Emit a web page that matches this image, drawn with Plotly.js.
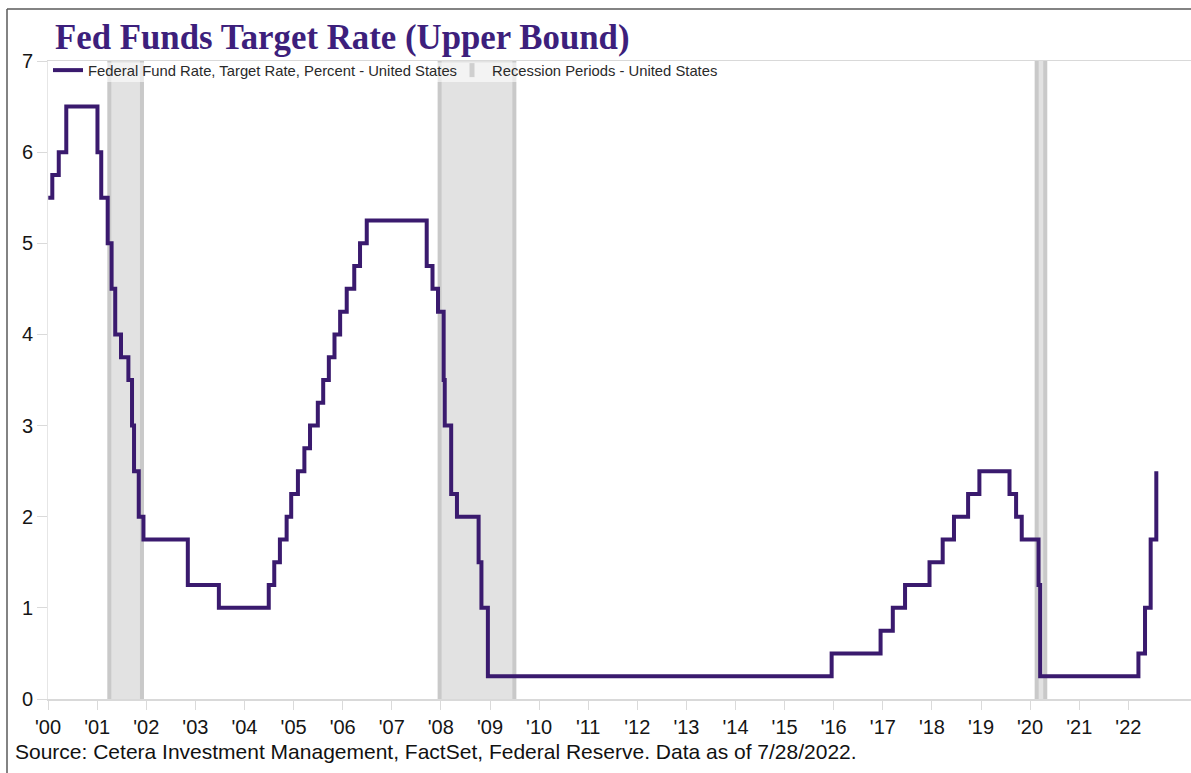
<!DOCTYPE html>
<html>
<head>
<meta charset="utf-8">
<script src="https://cdn.plot.ly/plotly-3.0.1.min.js"></script>
<style>
  html, body { margin: 0; padding: 0; background: #ffffff; overflow: hidden; }
  #chart { width: 1191px; height: 773px; }
</style>
</head>
<body>
<div id="chart"></div>
<script>
// ---- Data ----
const rateDates = [
  '2000-01-03','2000-02-02','2000-03-21','2000-05-16',
  '2001-01-03','2001-01-31','2001-03-20','2001-04-18','2001-05-15','2001-06-27',
  '2001-08-21','2001-09-17','2001-10-02','2001-11-06','2001-12-11',
  '2002-11-06','2003-06-25',
  '2004-06-30','2004-08-10','2004-09-21','2004-11-10','2004-12-14',
  '2005-02-02','2005-03-22','2005-05-03','2005-06-30','2005-08-09','2005-09-20','2005-11-01','2005-12-13',
  '2006-01-31','2006-03-28','2006-05-10','2006-06-29',
  '2007-09-18','2007-10-31','2007-12-11',
  '2008-01-22','2008-01-30','2008-03-18','2008-04-30','2008-10-08','2008-10-29','2008-12-16',
  '2015-12-17','2016-12-15',
  '2017-03-16','2017-06-15','2017-12-14',
  '2018-03-22','2018-06-14','2018-09-27','2018-12-20',
  '2019-08-01','2019-09-19','2019-10-31',
  '2020-03-04','2020-03-16',
  '2022-03-17','2022-05-05','2022-06-16','2022-07-28'
];
const rateValues = [
  5.50, 5.75, 6.00, 6.50,
  6.00, 5.50, 5.00, 4.50, 4.00, 3.75,
  3.50, 3.00, 2.50, 2.00, 1.75,
  1.25, 1.00,
  1.25, 1.50, 1.75, 2.00, 2.25,
  2.50, 2.75, 3.00, 3.25, 3.50, 3.75, 4.00, 4.25,
  4.50, 4.75, 5.00, 5.25,
  4.75, 4.50, 4.25,
  3.50, 3.00, 2.25, 2.00, 1.50, 1.00, 0.25,
  0.50, 0.75,
  1.00, 1.25, 1.50,
  1.75, 2.00, 2.25, 2.50,
  2.25, 2.00, 1.75,
  1.25, 0.25,
  0.50, 1.00, 1.75, 2.50
];
const recessionStart = ['2001-04-01', '2007-12-23', '2020-02-19'];
const recessionEnd   = ['2001-11-30', '2009-07-01', '2020-04-23'];

const tickDates  = ['2000-01-01','2001-01-01','2002-01-01','2003-01-01','2004-01-01','2005-01-01',
                    '2006-01-01','2007-01-01','2008-01-01','2009-01-01','2010-01-01','2011-01-01',
                    '2012-01-01','2013-01-01','2014-01-01','2015-01-01','2016-01-01','2017-01-01',
                    '2018-01-01','2019-01-01','2020-01-01','2021-01-01','2022-01-01'];
const tickLabels = ["'00","'01","'02","'03","'04","'05","'06","'07","'08","'09","'10","'11",
                    "'12","'13","'14","'15","'16","'17","'18","'19","'20","'21","'22"];
const yTicks = [0, 1, 2, 3, 4, 5, 6, 7];

const seriesName = 'Federal Fund Rate, Target Rate, Percent - United States';
const recessionName = 'Recession Periods - United States';
const titleText = 'Fed Funds Target Rate (Upper Bound)';
const sourceText = 'Source: Cetera Investment Management, FactSet, Federal Reserve. Data as of 7/28/2022.';

// ---- Styling ----
const PURPLE = '#3a1a6e';
const TITLE_PURPLE = '#3d1f7c';
const REC_FILL = '#e2e2e2';
const REC_EDGE = '#c9c9c9';
const SANS = 'Liberation Sans, Arial, sans-serif';

const W = 1191, H = 773;
const M = { l: 48, r: 0, t: 61, b: 74 };
const plotW = W - M.l - M.r, plotH = H - M.t - M.b;
const px2paperX = px => (px - M.l) / plotW;
const px2paperY = py => (H - M.b - py) / plotH;

const traces = [
  {
    type: 'scatter',
    mode: 'lines',
    x: rateDates,
    y: rateValues,
    name: seriesName,
    line: { color: PURPLE, width: 4, shape: 'hv' },
    hoverinfo: 'x+y'
  },
  {
    type: 'scatter',
    mode: 'markers',
    x: [null],
    y: [null],
    name: recessionName,
    legendwidth: 230,
    marker: { symbol: 'line-ns', size: 10, color: REC_EDGE, line: { color: '#cfcfcf', width: 5 } },
    hoverinfo: 'skip'
  }
];

const shapes = [];
recessionStart.forEach((s, i) => {
  const e = recessionEnd[i];
  shapes.push({ type: 'rect', xref: 'x', yref: 'y', x0: s, x1: e, y0: 0, y1: 7,
                fillcolor: REC_FILL, line: { width: 0 }, layer: 'below' });
  shapes.push({ type: 'line', xref: 'x', yref: 'y', x0: s, x1: s, y0: 0, y1: 7,
                line: { color: REC_EDGE, width: 4 }, layer: 'below' });
  shapes.push({ type: 'line', xref: 'x', yref: 'y', x0: e, x1: e, y0: 0, y1: 7,
                line: { color: REC_EDGE, width: 4 }, layer: 'below' });
});
// translucent legend backdrop (covers the top of the shading only)
shapes.push({ type: 'rect', xref: 'paper', yref: 'paper',
              x0: px2paperX(49), x1: px2paperX(730), y0: px2paperY(82), y1: px2paperY(62.5),
              fillcolor: 'rgba(255,255,255,0.6)', line: { width: 0 }, layer: 'above' });
// outer frame (left and top edges of the graphic box)
shapes.push({ type: 'line', xref: 'paper', yref: 'paper',
              x0: px2paperX(7), x1: px2paperX(7), y0: px2paperY(9), y1: px2paperY(780),
              line: { color: '#5a5a5a', width: 1.5 } });
shapes.push({ type: 'line', xref: 'paper', yref: 'paper',
              x0: px2paperX(7), x1: px2paperX(1195), y0: px2paperY(9), y1: px2paperY(9),
              line: { color: '#5a5a5a', width: 1.5 } });

const layout = {
  width: W,
  height: H,
  margin: M,
  paper_bgcolor: '#ffffff',
  plot_bgcolor: '#ffffff',
  showlegend: true,
  title: {
    text: titleText,
    xref: 'container', yref: 'container',
    x: 55 / W, xanchor: 'left',
    y: 1 - 37 / H, yanchor: 'middle',
    font: { family: 'Liberation Serif, Times New Roman, serif', size: 34.8, color: TITLE_PURPLE, weight: 'bold' }
  },
  xaxis: {
    type: 'date',
    range: ['2000-01-01', '2023-04-12'],
    tickmode: 'array',
    tickvals: tickDates,
    ticktext: tickLabels,
    ticks: 'outside',
    ticklen: 9,
    tickwidth: 1,
    tickcolor: '#dadada',
    showgrid: false,
    zeroline: false,
    showline: true,
    linecolor: '#d9d9d9',
    linewidth: 1.5,
    mirror: true,
    tickfont: { family: SANS, size: 20, color: '#151515' },
    fixedrange: true
  },
  yaxis: {
    range: [0, 7],
    tickmode: 'array',
    tickvals: yTicks,
    ticks: 'outside',
    ticklen: 10,
    tickwidth: 1,
    tickcolor: '#dadada',
    showgrid: false,
    zeroline: false,
    showline: true,
    linecolor: '#e6e6e6',
    linewidth: 1,
    tickfont: { family: SANS, size: 20, color: '#151515' },
    fixedrange: true
  },
  legend: {
    orientation: 'h',
    x: 0, xanchor: 'left',
    y: px2paperY(54), yanchor: 'top',
    bgcolor: 'rgba(255,255,255,0)',
    borderwidth: 0,
    entrywidth: 359,
    font: { family: SANS, size: 14.8, color: '#2a2a2a' },
    itemclick: false, itemdoubleclick: false
  },
  shapes: shapes,
  annotations: [
    {
      text: sourceText,
      xref: 'paper', yref: 'paper',
      x: px2paperX(13), xanchor: 'left',
      y: px2paperY(751), yanchor: 'middle',
      showarrow: false,
      font: { family: SANS, size: 21, color: '#111111' }
    }
  ],
  hovermode: false
};

Plotly.newPlot('chart', traces, layout, { displayModeBar: false, staticPlot: true });
</script>
</body>
</html>
